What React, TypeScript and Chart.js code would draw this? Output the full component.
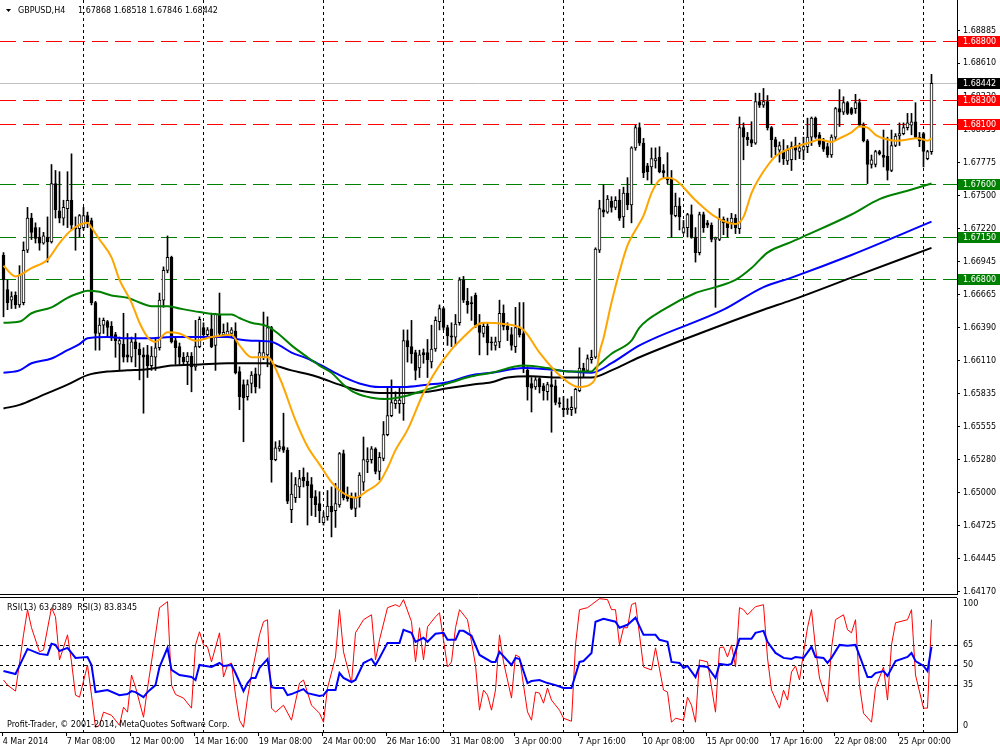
import React, { useEffect, useRef } from "react";
import { Chart, registerables } from "chart.js";
Chart.register(...registerables);

const SYMBOL = "GBPUSD,H4";
const HEADER_OHLC = "1.67868 1.68518 1.67846 1.68442";
const RSI_LABEL = "RSI(13) 63.6389  RSI(3) 83.8345";
const COPYRIGHT = "Profit-Trader, \u00a9 2001-2014, MetaQuotes Software Corp.";

const openP = [
  1.6700,1.6671,1.6662,1.6666,1.6658,1.6660,1.6704,1.6731,1.6723,1.6715,
  1.6710,1.6715,1.6711,1.6760,1.6737,1.6731,1.6739,1.6746,1.6723,1.6722,
  1.6723,1.6733,1.6729,1.6660,1.6634,1.6641,1.6644,1.6640,1.6633,1.6625,
  1.6625,1.6616,1.6614,1.6627,1.6621,1.6616,1.6616,1.6607,1.6614,1.6622,
  1.6662,1.6687,1.6698,1.6628,1.6623,1.6614,1.6610,1.6615,1.6606,1.6623,
  1.6639,1.6633,1.6638,1.6624,1.6650,1.6633,1.6633,1.6634,1.6636,1.6602,
  1.6591,1.6581,1.6592,1.6600,1.6599,1.6614,1.6616,1.6639,1.6528,1.6537,
  1.6539,1.6536,1.6486,1.6496,1.6505,1.6513,1.6510,1.6507,1.6497,1.6491,
  1.6475,1.6480,1.6489,1.6485,1.6490,1.6533,1.6498,1.6496,1.6487,1.6496,
  1.6509,1.6526,1.6528,1.6537,1.6518,1.6529,1.6549,1.6565,1.6575,1.6575,
  1.6575,1.6628,1.6623,1.6618,1.6605,1.6618,1.6618,1.6610,1.6621,1.6644,
  1.6655,1.6639,1.6632,1.6631,1.6643,1.6679,1.6661,1.6660,1.6666,1.6641,
  1.6634,1.6640,1.6627,1.6624,1.6627,1.6651,1.6640,1.6633,1.6623,1.6639,
  1.6634,1.6603,1.6592,1.6589,1.6596,1.6590,1.6585,1.6591,1.6590,1.6576,
  1.6571,1.6570,1.6570,1.6571,1.6586,1.6605,1.6603,1.6612,1.6614,1.6704,
  1.6738,1.6736,1.6745,1.6740,1.6746,1.6732,1.6752,1.6742,1.6790,1.6807,
  1.6794,1.6775,1.6774,1.6779,1.6782,1.6771,1.6765,1.6764,1.6733,1.6741,
  1.6719,1.6723,1.6734,1.6715,1.6702,1.6734,1.6727,1.6725,1.6713,1.6713,
  1.6730,1.6727,1.6727,1.6731,1.6722,1.6807,1.6799,1.6797,1.6794,1.6829,
  1.6826,1.6829,1.6807,1.6797,1.6788,1.6787,1.6779,1.6780,1.6792,1.6787,
  1.6788,1.6791,1.6799,1.6815,1.6801,1.6796,1.6791,1.6784,1.6799,1.6823,
  1.6820,1.6828,1.6823,1.6823,1.6828,1.6809,1.6796,1.6776,1.6776,1.6787,
  1.6784,1.6783,1.6771,1.6792,1.6800,1.6802,1.6807,1.6809,1.6812,1.6799,
  1.6802,1.6781,1.67868,
];
const highP = [
  1.6702,1.6679,1.6669,1.6669,1.6691,1.6711,1.6740,1.6735,1.6727,1.6723,
  1.6719,1.6732,1.6776,1.6771,1.6770,1.6746,1.6770,1.6785,1.6732,1.6734,
  1.6740,1.6736,1.6731,1.6661,1.6647,1.6647,1.6645,1.6644,1.6635,1.6631,
  1.6651,1.6634,1.6631,1.6634,1.6626,1.6622,1.6624,1.6623,1.6630,1.6668,
  1.6690,1.6716,1.6699,1.6630,1.6626,1.6618,1.6618,1.6618,1.6645,1.6648,
  1.6643,1.6639,1.6651,1.6651,1.6668,1.6642,1.6643,1.6639,1.6643,1.6606,
  1.6595,1.6595,1.6602,1.6605,1.6628,1.6652,1.6648,1.6640,1.6543,1.6544,
  1.6567,1.6538,1.6517,1.6513,1.6519,1.6521,1.6517,1.6513,1.6502,1.6501,
  1.6484,1.6502,1.6505,1.6508,1.6534,1.6536,1.6505,1.6500,1.6500,1.6517,
  1.6547,1.6538,1.6539,1.6538,1.6534,1.6560,1.6588,1.6595,1.6585,1.6588,
  1.6637,1.6637,1.6645,1.6620,1.6620,1.6621,1.6629,1.6641,1.6648,1.6658,
  1.6656,1.6641,1.6643,1.6650,1.6681,1.6682,1.6672,1.6665,1.6668,1.6650,
  1.6643,1.6643,1.6631,1.6631,1.6662,1.6658,1.6643,1.6639,1.6656,1.6660,
  1.6660,1.6606,1.6597,1.6597,1.6597,1.6592,1.6593,1.6602,1.6595,1.6580,
  1.6581,1.6579,1.6581,1.6588,1.6622,1.6609,1.6616,1.6620,1.6706,1.6746,
  1.6759,1.6750,1.6749,1.6749,1.6755,1.6757,1.6765,1.6791,1.6809,1.6811,
  1.6798,1.6777,1.6790,1.6790,1.6791,1.6776,1.6786,1.6771,1.6752,1.6748,
  1.6729,1.6735,1.6742,1.6723,1.6736,1.6736,1.6729,1.6727,1.6715,1.6739,
  1.6732,1.6731,1.6735,1.6734,1.6816,1.6811,1.6803,1.6812,1.6836,1.6836,
  1.6840,1.6834,1.6808,1.6799,1.6795,1.6797,1.6792,1.6795,1.6799,1.6794,
  1.6799,1.6815,1.6816,1.6816,1.6803,1.6798,1.6794,1.6801,1.6824,1.6839,
  1.6833,1.6829,1.6824,1.6835,1.6831,1.6811,1.6797,1.6784,1.6788,1.6788,
  1.6805,1.6799,1.6805,1.6802,1.6811,1.6811,1.6819,1.6819,1.6828,1.6803,
  1.6803,1.6788,1.68518,
];
const lowP = [
  1.6648,1.6654,1.6655,1.6655,1.6656,1.6658,1.6702,1.6713,1.6710,1.6704,
  1.6709,1.6694,1.6710,1.6731,1.6727,1.6725,1.6723,1.6721,1.6704,1.6715,
  1.6721,1.6723,1.6658,1.6620,1.6620,1.6634,1.6631,1.6628,1.6614,1.6603,
  1.6610,1.6610,1.6610,1.6606,1.6595,1.6567,1.6597,1.6603,1.6603,1.6620,
  1.6656,1.6685,1.6626,1.6608,1.6608,1.6608,1.6591,1.6585,1.6603,1.6622,
  1.6631,1.6631,1.6622,1.6603,1.6633,1.6631,1.6631,1.6631,1.6600,1.6570,
  1.6543,1.6578,1.6584,1.6584,1.6588,1.6612,1.6606,1.6509,1.6527,1.6535,
  1.6534,1.6491,1.6475,1.6492,1.6496,1.6505,1.6473,1.6481,1.6480,1.6475,
  1.6473,1.6477,1.6463,1.6471,1.6488,1.6494,1.6493,1.6486,1.6480,1.6488,
  1.6502,1.6517,1.6525,1.6516,1.6511,1.6527,1.6548,1.6564,1.6571,1.6567,
  1.6561,1.6610,1.6609,1.6595,1.6597,1.6609,1.6597,1.6605,1.6619,1.6637,
  1.6637,1.6624,1.6623,1.6624,1.6641,1.6660,1.6651,1.6645,1.6639,1.6616,
  1.6631,1.6616,1.6620,1.6620,1.6622,1.6637,1.6628,1.6620,1.6618,1.6631,
  1.6601,1.6578,1.6568,1.6587,1.6584,1.6578,1.6578,1.6551,1.6574,1.6572,
  1.6564,1.6566,1.6565,1.6567,1.6585,1.6597,1.6601,1.6609,1.6613,1.6702,
  1.6732,1.6735,1.6736,1.6738,1.6729,1.6723,1.6738,1.6727,1.6788,1.6792,
  1.6765,1.6763,1.6760,1.6773,1.6769,1.6765,1.6760,1.6715,1.6732,1.6721,
  1.6718,1.6715,1.6714,1.6694,1.6700,1.6719,1.6723,1.6711,1.6656,1.6712,
  1.6717,1.6715,1.6722,1.6718,1.6718,1.6780,1.6792,1.6791,1.6793,1.6824,
  1.6824,1.6805,1.6782,1.6784,1.6778,1.6776,1.6776,1.6771,1.6780,1.6781,
  1.6780,1.6786,1.6792,1.6798,1.6791,1.6787,1.6782,1.6782,1.6797,1.6808,
  1.6818,1.6818,1.6818,1.6819,1.6808,1.6795,1.6760,1.6773,1.6774,1.6784,
  1.6774,1.6763,1.6770,1.6791,1.6792,1.6801,1.6805,1.6801,1.6798,1.6791,
  1.6774,1.6780,1.67846,
];
const closeP = [
  1.6679,1.6660,1.6665,1.6658,1.6683,1.6704,1.6731,1.6719,1.6714,1.6710,
  1.6716,1.6711,1.6760,1.6738,1.6731,1.6740,1.6746,1.6725,1.6722,1.6733,
  1.6733,1.6728,1.6660,1.6634,1.6641,1.6645,1.6639,1.6631,1.6628,1.6628,
  1.6614,1.6614,1.6627,1.6621,1.6616,1.6614,1.6607,1.6615,1.6622,1.6662,
  1.6687,1.6698,1.6627,1.6622,1.6614,1.6610,1.6615,1.6606,1.6623,1.6646,
  1.6633,1.6637,1.6623,1.6650,1.6634,1.6635,1.6636,1.6637,1.6601,1.6581,
  1.6580,1.6591,1.6599,1.6589,1.6618,1.6618,1.6639,1.6528,1.6538,1.6539,
  1.6536,1.6493,1.6499,1.6507,1.6512,1.6510,1.6506,1.6496,1.6490,1.6485,
  1.6480,1.6489,1.6484,1.6491,1.6533,1.6496,1.6495,1.6487,1.6496,1.6515,
  1.6528,1.6528,1.6537,1.6518,1.6530,1.6549,1.6565,1.6576,1.6578,1.6578,
  1.6628,1.6623,1.6617,1.6603,1.6616,1.6616,1.6612,1.6621,1.6645,1.6655,
  1.6639,1.6632,1.6631,1.6642,1.6679,1.6662,1.6658,1.6659,1.6641,1.6635,
  1.6640,1.6626,1.6626,1.6627,1.6651,1.6640,1.6637,1.6624,1.6639,1.6633,
  1.6606,1.6589,1.6588,1.6595,1.6589,1.6586,1.6591,1.6589,1.6576,1.6575,
  1.6570,1.6571,1.6572,1.6587,1.6605,1.6602,1.6613,1.6614,1.6705,1.6739,
  1.6736,1.6747,1.6740,1.6746,1.6731,1.6752,1.6742,1.6790,1.6807,1.6794,
  1.6769,1.6770,1.6781,1.6781,1.6770,1.6769,1.6763,1.6734,1.6741,1.6732,
  1.6723,1.6734,1.6715,1.6702,1.6734,1.6723,1.6725,1.6713,1.6714,1.6730,
  1.6727,1.6723,1.6731,1.6723,1.6807,1.6799,1.6797,1.6794,1.6829,1.6826,
  1.6829,1.6807,1.6797,1.6791,1.6792,1.6781,1.6788,1.6791,1.6788,1.6790,
  1.6791,1.6799,1.6815,1.6799,1.6793,1.6789,1.6784,1.6799,1.6823,1.6820,
  1.6828,1.6819,1.6819,1.6828,1.6809,1.6796,1.6776,1.6780,1.6787,1.6785,
  1.6782,1.6771,1.6792,1.6800,1.6802,1.6807,1.6811,1.6812,1.6799,1.6796,
  1.6787,1.6787,1.68442,
];

// Moving averages: [bar index, price]
const maOrange = [
  [0,1.6691],[3,1.6682],[7,1.6689],[11,1.6696],[14,1.6710],[17,1.6721],[21,1.6727],[22,1.6723],
  [24,1.6713],[27,1.6698],[29,1.6679],[32,1.6660],[34,1.6643],[36,1.6631],[38,1.6627],[41,1.6635],
  [44,1.6634],[48,1.6628],[52,1.6631],[57,1.6633],[59,1.6624],[62,1.6614],[66,1.6614],[69,1.6597],
  [73,1.6561],[76,1.6539],[79,1.6524],[82,1.6509],[84,1.6502],[88,1.6496],[91,1.6502],[94,1.6509],
  [96,1.6521],[98,1.6536],[101,1.6553],[105,1.6584],[110,1.6612],[115,1.6631],[120,1.6643],[125,1.6642],
  [130,1.6637],[134,1.6618],[139,1.6599],[144,1.6589],[147,1.6592],[148,1.6597],[149,1.6618],[150,1.6630],
  [152,1.6660],[154,1.6686],[156,1.6708],[158,1.6721],[160,1.6733],[162,1.6752],[164,1.6763],[166,1.6765],
  [168,1.6763],[173,1.6746],[178,1.6732],[183,1.6726],[185,1.6732],[187,1.6752],[189,1.6765],[191,1.6775],
  [193,1.6783],[197,1.6790],[199,1.6792],[202,1.6795],[204,1.6797],[207,1.6795],[209,1.6798],[212,1.6803],
  [214,1.6808],[216,1.6807],[218,1.6801],[221,1.6797],[223,1.6796],[226,1.6797],[228,1.6798],[230,1.6797],
  [231,1.6796],[232,1.6798],
];
const maGreen = [
  [0,1.6643],[4,1.6644],[7,1.6651],[12,1.6656],[16,1.6664],[19,1.6668],[21,1.6670],[24,1.6669],
  [27,1.6666],[31,1.6664],[34,1.6660],[37,1.6657],[41,1.6657],[44,1.6655],[49,1.6652],[54,1.6650],
  [57,1.6650],[59,1.6647],[62,1.6643],[66,1.6640],[69,1.6633],[72,1.6624],[76,1.6614],[79,1.6607],
  [82,1.6601],[85,1.6591],[88,1.6584],[92,1.6580],[96,1.6579],[100,1.6581],[104,1.6585],[108,1.6589],
  [112,1.6593],[117,1.6598],[122,1.6601],[130,1.6607],[136,1.6605],[141,1.6602],[147,1.6602],[148,1.6605],
  [152,1.6617],[157,1.6628],[159,1.6639],[165,1.6654],[173,1.6668],[178,1.6673],[183,1.6679],[187,1.6689],
  [191,1.6702],[197,1.6711],[199,1.6714],[212,1.6734],[219,1.6747],[226,1.6754],[232,1.6760],
];
const maBlue = [
  [0,1.6601],[4,1.6603],[7,1.6609],[12,1.6613],[16,1.6620],[19,1.6625],[21,1.6630],[26,1.6631],
  [31,1.6630],[36,1.6630],[42,1.6631],[49,1.6631],[56,1.6631],[59,1.6629],[62,1.6628],[67,1.6627],
  [69,1.6624],[72,1.6618],[76,1.6613],[79,1.6608],[84,1.6599],[89,1.6592],[94,1.6589],[100,1.6589],
  [106,1.6591],[111,1.6593],[117,1.6599],[122,1.6601],[130,1.6605],[136,1.6604],[142,1.6602],[147,1.6601],
  [152,1.6609],[159,1.6624],[180,1.6654],[190,1.6673],[197,1.6681],[212,1.6700],[232,1.6728],
];
const maBlack = [
  [0,1.6571],[4,1.6574],[9,1.6581],[16,1.6591],[21,1.6599],[26,1.6602],[31,1.6603],[36,1.6604],
  [42,1.6607],[49,1.6608],[56,1.6609],[61,1.6609],[66,1.6609],[69,1.6606],[72,1.6603],[76,1.6600],
  [79,1.6597],[84,1.6591],[89,1.6586],[94,1.6584],[100,1.6584],[106,1.6585],[111,1.6588],[117,1.6591],
  [122,1.6593],[126,1.6597],[132,1.6598],[139,1.6597],[147,1.6597],[152,1.6603],[159,1.6614],[174,1.6634],
  [190,1.6654],[197,1.6662],[212,1.6681],[232,1.6706],
];

// RSI values: [bar index, value]
const rsi13 = [
  [0,45.5],[3,43.3],[6,62.0],[9,58.3],[11,57.5],[12,65.8],[13,65.0],[14,60.5],[16,62.8],[18,55.3],
  [21,56.0],[22,50.0],[23,29.8],[26,31.3],[29,27.5],[31,28.3],[32,30.5],[33,29.8],[35,26.0],[36,29.8],
  [38,35.0],[39,48.5],[41,62.8],[42,46.3],[44,42.5],[47,41.0],[48,38.8],[49,50.0],[52,48.5],[54,51.5],
  [55,49.3],[57,50.0],[58,44.0],[60,30.5],[61,36.5],[62,40.3],[63,40.3],[64,47.8],[66,54.5],[67,33.5],
  [68,32.8],[70,32.8],[71,27.5],[72,28.3],[75,32.0],[76,29.0],[79,26.8],[80,27.5],[81,31.3],[83,31.3],
  [84,44.0],[85,40.3],[87,37.3],[88,38.8],[90,51.5],[92,54.5],[93,50.0],[94,55.3],[96,66.5],[99,66.5],
  [100,76.3],[102,74.0],[103,67.3],[105,70.3],[106,67.3],[108,73.3],[110,74.0],[111,68.8],[113,68.8],[114,75.5],
  [115,75.5],[117,71.8],[119,57.5],[122,52.3],[123,52.3],[124,59.8],[127,50.0],[128,55.3],[129,54.5],[131,36.5],
  [132,38.0],[134,38.8],[136,36.5],[138,35.0],[140,32.8],[142,32.8],[144,52.3],[145,53.0],[147,59.0],[148,82.3],
  [150,84.5],[153,82.3],[154,77.8],[156,80.0],[158,85.3],[160,72.5],[163,72.5],[164,68.8],[166,67.3],[167,52.3],
  [169,51.5],[170,47.8],[171,49.3],[173,41.0],[174,49.3],[176,48.5],[178,40.3],[179,50.8],[181,50.0],[182,50.8],
  [184,69.5],[187,69.5],[188,74.0],[190,75.5],[191,67.3],[193,59.0],[195,55.3],[197,54.5],[198,56.0],[200,55.3],
  [202,63.5],[203,56.0],[205,55.3],[206,51.5],[207,55.3],[209,65.0],[211,64.3],[213,65.0],[216,41.0],[217,41.0],
  [218,44.0],[220,45.5],[221,41.8],[223,53.0],[226,56.0],[227,59.0],[228,53.0],[230,49.3],[231,45.5],[232,63.64],
];
const rsi3 = [
  [0,38.8],[1,35.0],[3,30.5],[5,72.5],[6,91.3],[7,77.8],[9,59.8],[10,61.3],[12,92.8],[13,86.0],
  [14,53.8],[16,72.5],[17,52.3],[18,27.5],[19,26.0],[21,50.0],[22,27.5],[23,3.5],[24,5.0],[25,14.8],
  [27,12.5],[29,5.0],[30,18.5],[31,14.8],[32,42.5],[33,33.5],[35,11.0],[36,32.8],[37,52.3],[39,92.8],
  [41,97.3],[42,35.0],[43,28.0],[45,25.3],[47,17.8],[48,65.0],[49,74.8],[50,65.0],[51,63.5],[52,52.3],
  [54,74.0],[55,41.0],[56,50.0],[57,51.5],[58,27.5],[59,8.8],[60,3.5],[61,25.3],[62,42.5],[64,72.5],
  [65,82.3],[66,83.8],[67,17.8],[68,14.8],[70,20.0],[72,8.8],[74,36.5],[75,38.8],[77,20.0],[79,14.0],
  [80,7.3],[81,32.8],[83,56.0],[84,91.3],[85,59.8],[87,36.5],[88,74.0],[90,83.8],[92,87.5],[93,53.8],
  [94,68.8],[96,92.8],[98,95.0],[99,93.5],[100,98.8],[102,82.3],[103,52.3],[104,77.8],[105,53.8],[106,78.5],
  [108,86.0],[109,89.0],[111,48.5],[112,52.3],[113,77.8],[114,91.3],[116,83.8],[117,67.3],[118,50.0],[119,16.3],
  [120,31.3],[121,27.5],[122,16.3],[123,31.3],[124,72.5],[125,52.3],[127,25.3],[128,57.5],[129,56.0],[130,35.0],
  [131,15.0],[132,8.8],[133,29.8],[134,29.0],[135,21.5],[136,32.8],[137,23.8],[139,16.3],[140,10.3],[142,8.0],
  [143,65.0],[144,91.3],[146,92.8],[147,95.0],[149,99.5],[151,98.8],[152,91.3],[153,91.3],[154,65.0],[155,77.8],
  [156,77.8],[157,95.0],[158,96.5],[160,48.5],[162,46.3],[163,62.8],[165,31.3],[166,29.8],[167,7.3],[168,10.3],
  [170,8.8],[171,26.0],[172,20.0],[173,7.3],[174,53.8],[176,52.3],[178,14.8],[179,62.8],[180,63.5],[181,56.0],
  [182,65.0],[183,48.5],[184,92.8],[185,91.3],[186,87.5],[188,93.5],[190,95.0],[191,55.3],[192,31.3],[194,17.8],
  [195,31.3],[196,23.8],[197,44.8],[198,49.3],[199,38.8],[200,59.0],[201,77.8],[202,91.3],[203,62.8],[204,40.3],
  [206,22.3],[207,62.8],[208,83.8],[210,87.5],[211,76.3],[212,74.0],[213,83.8],[214,35.0],[215,14.0],[217,7.3],
  [218,32.8],[220,48.5],[221,23.8],[222,65.0],[223,81.5],[226,83.8],[227,91.3],[228,42.5],[230,17.8],[231,17.8],
  [232,83.83],
];

const timeLabels = [
  "4 Mar 2014","7 Mar 08:00","12 Mar 00:00","14 Mar 16:00","19 Mar 08:00","24 Mar 00:00",
  "26 Mar 16:00","31 Mar 08:00","3 Apr 00:00","7 Apr 16:00","10 Apr 08:00","15 Apr 00:00",
  "17 Apr 16:00","22 Apr 08:00","25 Apr 00:00",
];
const timeLabelBars = [0,16,32,48,64,80,96,112,128,144,160,176,192,208,224];
const gridBars = [19.875,49.875,79.875,109.875,139.875,169.875,199.875,229.875];

const priceTicks = [
  1.68885,1.6861,1.6833,1.68055,1.67775,1.675,1.6722,1.66945,1.66665,
  1.6639,1.6611,1.65835,1.65555,1.6528,1.65,1.64725,1.64445,1.6417,
];
const redLevels = [1.688, 1.683, 1.681];
const greenLevels = [1.676, 1.6715, 1.668];
const lastPrice = 1.68442;
const rsiLevels = [35, 50, 65];
const rsiTickLabels = [100, 65, 50, 35, 0];

const X_MIN = -0.875;
const X_MAX = 238.375;
const P_MAX = 1.69143;
const P_MIN = 1.641504;
const FONT = "'DejaVu Sans', sans-serif";
const FS = 8;

function hline(ctx: CanvasRenderingContext2D, y: number, x0: number, x1: number) {
  ctx.beginPath();
  ctx.moveTo(x0, y);
  ctx.lineTo(x1, y);
  ctx.stroke();
}
function vline(ctx: CanvasRenderingContext2D, x: number, y0: number, y1: number) {
  ctx.beginPath();
  ctx.moveTo(x, y0);
  ctx.lineTo(x, y1);
  ctx.stroke();
}

export default function App() {
  const mainRef = useRef<HTMLCanvasElement>(null);
  const rsiRef = useRef<HTMLCanvasElement>(null);

  useEffect(() => {
    document.body.style.margin = "0";
    const wicks = openP.map((_, i) => ({ x: i, y: [lowP[i], highP[i]] }));
    const bodies = openP.map((o, i) => ({ x: i, y: [Math.min(o, closeP[i]), Math.max(o, closeP[i])] }));
    const bodyColors = openP.map((o, i) => (closeP[i] >= o ? "#ffffff" : "#000000"));
    const toPts = (arr: number[][]) => arr.map(([x, y]) => ({ x, y }));

    const mainDecor = {
      id: "mainDecor",
      beforeDatasetsDraw(chart: any) {
        const { ctx, chartArea: a, scales } = chart;
        const xs = scales.x, ys = scales.y;
        ctx.save();
        ctx.lineWidth = 1;
        ctx.strokeStyle = "#000";
        ctx.setLineDash([3, 3]);
        for (const g of gridBars) vline(ctx, Math.round(xs.getPixelForValue(g)) + 0.5, a.top, a.bottom);
        ctx.setLineDash([16, 7]);
        ctx.strokeStyle = "#ff0000";
        for (const lv of redLevels) hline(ctx, Math.round(ys.getPixelForValue(lv)) + 0.5, a.left, a.right);
        ctx.strokeStyle = "#008000";
        for (const lv of greenLevels) hline(ctx, Math.round(ys.getPixelForValue(lv)) + 0.5, a.left, a.right);
        ctx.setLineDash([]);
        ctx.strokeStyle = "#c0c0c0";
        hline(ctx, Math.round(ys.getPixelForValue(lastPrice)) + 0.5, a.left, a.right);
        ctx.restore();
      },
      afterDraw(chart: any) {
        const { ctx, chartArea: a, scales } = chart;
        const ys = scales.y;
        ctx.save();
        ctx.strokeStyle = "#000";
        ctx.lineWidth = 1;
        hline(ctx, a.bottom + 0.5, 0, a.right);
        const box = (v: number, bg: string) => {
          const yc = ys.getPixelForValue(v);
          ctx.fillStyle = bg;
          ctx.fillRect(a.right + 1, Math.round(yc) - 5, 1000 - a.right - 1, 11);
          ctx.fillStyle = "#fff";
          ctx.font = `${FS}px ${FONT}`;
          ctx.textBaseline = "middle";
          ctx.textAlign = "left";
          ctx.fillText(v.toFixed(5), a.right + 6, Math.round(yc) + 0.5);
        };
        for (const lv of redLevels) box(lv, "#ff0000");
        for (const lv of greenLevels) box(lv, "#008000");
        box(lastPrice, "#000000");
        // header
        ctx.fillStyle = "#000";
        ctx.beginPath();
        ctx.moveTo(6, 9);
        ctx.lineTo(11, 9);
        ctx.lineTo(8.5, 12);
        ctx.closePath();
        ctx.fill();
        ctx.font = `${FS}px ${FONT}`;
        ctx.textBaseline = "middle";
        ctx.textAlign = "left";
        ctx.fillText(SYMBOL, 18, 11);
        ctx.fillText(HEADER_OHLC, 78, 11);
        ctx.restore();
      },
    };

    const rsiDecor = {
      id: "rsiDecor",
      beforeDatasetsDraw(chart: any) {
        const { ctx, chartArea: a, scales } = chart;
        const xs = scales.x, ys = scales.y;
        ctx.save();
        ctx.lineWidth = 1;
        ctx.strokeStyle = "#000";
        ctx.setLineDash([3, 3]);
        for (const g of gridBars) vline(ctx, Math.round(xs.getPixelForValue(g)) + 0.5, a.top, a.bottom);
        for (const lv of rsiLevels) hline(ctx, Math.round(ys.getPixelForValue(lv)) + 0.5, a.left, a.right);
        ctx.setLineDash([]);
        ctx.restore();
      },
      afterDraw(chart: any) {
        const { ctx, chartArea: a, scales } = chart;
        const ys = scales.y;
        ctx.save();
        ctx.strokeStyle = "#000";
        ctx.lineWidth = 1;
        hline(ctx, a.top - 0.5, 0, a.right);
        ctx.fillStyle = "#000";
        ctx.font = `${FS}px ${FONT}`;
        ctx.textBaseline = "middle";
        ctx.textAlign = "left";
        for (const v of rsiTickLabels) {
          let y = ys.getPixelForValue(v);
          y = Math.max(a.top + 6, Math.min(a.bottom - 6, y));
          ctx.fillText(String(v), a.right + 6, y);
        }
        ctx.fillText(RSI_LABEL, 7, a.top + 10);
        ctx.fillText(COPYRIGHT, 7, a.bottom - 7);
        ctx.restore();
      },
    };

    const main = new Chart(mainRef.current as HTMLCanvasElement, {
      type: "bar",
      data: {
        datasets: [
          { type: "line", label: "MA1", data: toPts(maOrange), borderColor: "#ffa500", borderWidth: 2, pointRadius: 0, cubicInterpolationMode: "monotone", order: 0 } as any,
          { type: "line", label: "MA2", data: toPts(maGreen), borderColor: "#008000", borderWidth: 2, pointRadius: 0, cubicInterpolationMode: "monotone", order: 1 } as any,
          { type: "line", label: "MA3", data: toPts(maBlue), borderColor: "#0000ff", borderWidth: 2, pointRadius: 0, cubicInterpolationMode: "monotone", order: 2 } as any,
          { type: "line", label: "MA4", data: toPts(maBlack), borderColor: "#000000", borderWidth: 2, pointRadius: 0, cubicInterpolationMode: "monotone", order: 3 } as any,
          { type: "bar", label: "body", data: bodies, backgroundColor: bodyColors, borderColor: "#000", borderWidth: 1, borderSkipped: false, barThickness: 3, minBarLength: 1, grouped: false, order: 4 } as any,
          { type: "bar", label: "wick", data: wicks, backgroundColor: "#000", borderWidth: 0, barThickness: 1, grouped: false, order: 5 } as any,
        ],
      },
      options: {
        responsive: false,
        animation: false,
        events: [],
        layout: { padding: { left: 0, top: 0, right: 0, bottom: 156 } },
        plugins: { legend: { display: false }, tooltip: { enabled: false } },
        scales: {
          x: { type: "linear", min: X_MIN, max: X_MAX, display: false, offset: false },
          y: {
            type: "linear",
            position: "right",
            min: P_MIN,
            max: P_MAX,
            afterBuildTicks: (s: any) => { s.ticks = priceTicks.map((v) => ({ value: v })); },
            afterFit: (s: any) => { s.width = 43; s.paddingTop = 0; s.paddingBottom = 0; },
            ticks: { callback: (v: any) => Number(v).toFixed(5), font: { family: FONT, size: FS }, color: "#000", padding: 3, crossAlign: "near", autoSkip: false },
            grid: { drawOnChartArea: false, tickLength: 3, color: "#000" },
            border: { display: true, color: "#000" },
          },
        },
      } as any,
      plugins: [mainDecor],
    });

    const rsi = new Chart(rsiRef.current as HTMLCanvasElement, {
      type: "line",
      data: {
        datasets: [
          { label: "RSI(13)", data: toPts(rsi13), borderColor: "#0000ff", borderWidth: 2, pointRadius: 0, tension: 0 },
          { label: "RSI(3)", data: toPts(rsi3), borderColor: "#ff0000", borderWidth: 1, pointRadius: 0, tension: 0 },
        ],
      },
      options: {
        responsive: false,
        animation: false,
        events: [],
        layout: { padding: { left: 0, top: 598, right: 0, bottom: 0 } },
        plugins: { legend: { display: false }, tooltip: { enabled: false } },
        scales: {
          x: {
            type: "linear",
            min: X_MIN,
            max: X_MAX,
            offset: false,
            afterBuildTicks: (s: any) => { s.ticks = timeLabelBars.map((v) => ({ value: v - 0.2 })); },
            afterFit: (s: any) => { s.height = 18; s.paddingLeft = 0; s.paddingRight = 0; },
            ticks: { callback: (_v: any, i: number) => timeLabels[i], align: "start", maxRotation: 0, autoSkip: false, font: { family: FONT, size: FS }, color: "#000", padding: 1 },
            grid: { drawOnChartArea: false, tickLength: 4, color: "#000" },
            border: { display: true, color: "#000" },
          },
          y: {
            type: "linear",
            position: "right",
            min: 0,
            max: 100,
            afterFit: (s: any) => { s.width = 43; s.paddingTop = 0; s.paddingBottom = 0; },
            ticks: { display: false },
            grid: { display: false },
            border: { display: true, color: "#000" },
          },
        },
      } as any,
      plugins: [rsiDecor],
    });

    return () => {
      main.destroy();
      rsi.destroy();
    };
  }, []);

  return (
    <div style={{ position: "relative", width: 1000, height: 750, background: "#ffffff", overflow: "hidden" }}>
      <canvas ref={mainRef} width={1000} height={750} style={{ position: "absolute", left: 0, top: 0, width: 1000, height: 750 }} />
      <canvas ref={rsiRef} width={1000} height={750} style={{ position: "absolute", left: 0, top: 0, width: 1000, height: 750 }} />
    </div>
  );
}
